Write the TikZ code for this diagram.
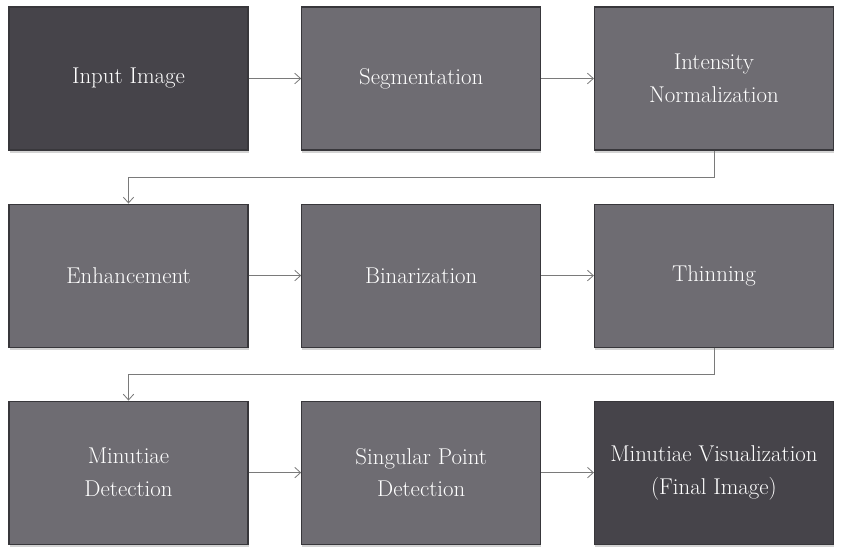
\documentclass[tikz,border=0pt]{standalone}
\usepackage{xcolor}
\usepackage{tikz}
\usetikzlibrary{arrows.meta, positioning, shadows}

\definecolor{boxdark}{HTML}{46444A}
\definecolor{boxmid}{HTML}{6E6C72}
\definecolor{boxline}{HTML}{38373B}
\definecolor{flowline}{HTML}{7A7A7A}

\tikzset{
  stage/.style={draw=boxline, line width=0.9pt, fill=boxmid, text=white,
    minimum width=7.17cm, minimum height=4.29cm, align=center,
    font=\fontsize{19.5}{28}\selectfont,
    drop shadow={opacity=0.35, shadow xshift=0.6pt, shadow yshift=-2.2pt}},
  endstage/.style={stage, fill=boxdark},
  flow/.style={draw=flowline, line width=0.7pt, -{Straight Barb[length=5pt, width=9pt]}}
}

\begin{document}
\begin{tikzpicture}[node distance=1.59cm and 1.58cm]
    \useasboundingbox (0,0) rectangle (25.29,-16.74);

    % first row
    \node[endstage] (input) at (3.855,-2.355) {Input Image};
    \node[stage, right=of input] (seg) {Segmentation};
    \node[stage, right=of seg] (norm) {Intensity\\Normalization};

    % second row
    \node[stage, below=of input] (enh) {Enhancement};
    \node[stage, right=of enh] (bin) {Binarization};
    \node[stage, right=of bin] (thin) {Thinning};

    % third row
    \node[stage, below=of enh] (minu) {Minutiae\\Detection};
    \node[stage, right=of minu] (sing) {Singular Point\\Detection};
    \node[endstage, right=of sing] (vis) {Minutiae Visualization\\(Final Image)};

    % connectors
    \draw[flow] (input) -- (seg);
    \draw[flow] (seg) -- (norm);
    \draw[flow] (norm.south) -- ++(0,-0.8) -| (enh.north);
    \draw[flow] (enh) -- (bin);
    \draw[flow] (bin) -- (thin);
    \draw[flow] (thin.south) -- ++(0,-0.8) -| (minu.north);
    \draw[flow] (minu) -- (sing);
    \draw[flow] (sing) -- (vis);
\end{tikzpicture}
\end{document}
